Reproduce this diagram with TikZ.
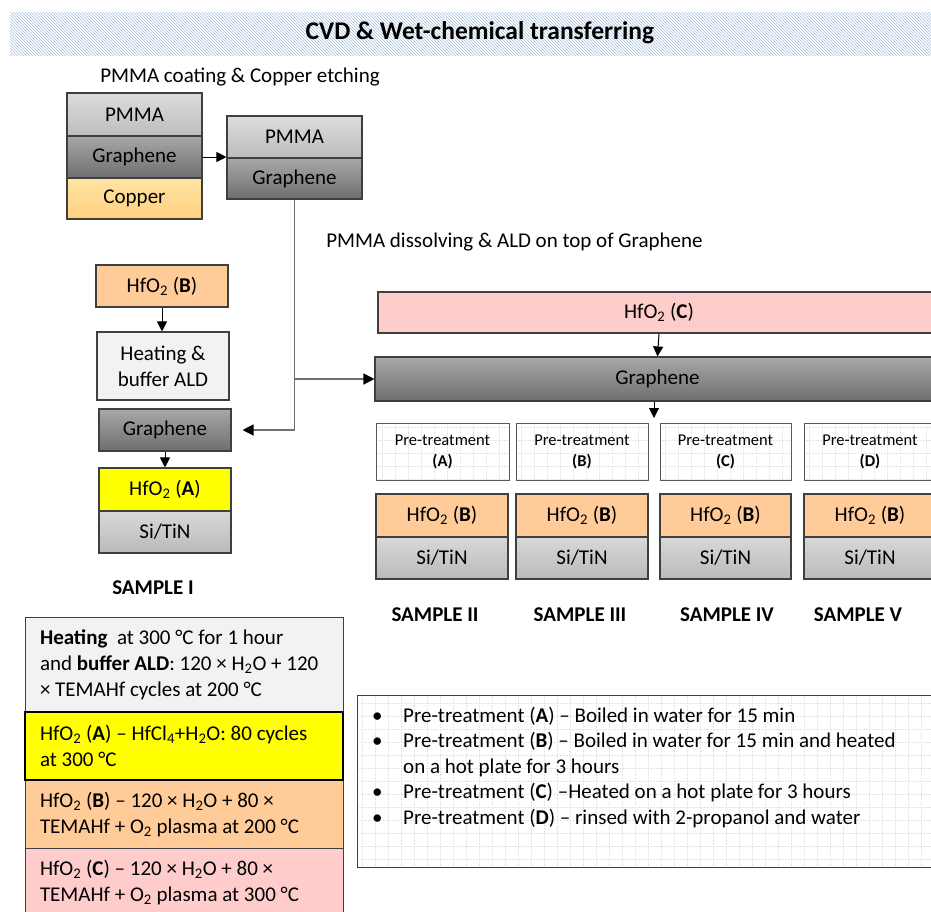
\documentclass[tikz,border=0pt]{standalone}
\usepackage{fontspec}
\setmainfont{Carlito}
\usetikzlibrary{arrows.meta,patterns}
\definecolor{boxline}{HTML}{3F3F3F}
\definecolor{prelinec}{HTML}{595959}
\definecolor{connc}{HTML}{6F6F6F}
\definecolor{bannerc}{HTML}{A9C1E0}
\definecolor{grtop}{HTML}{A8A8A8}
\definecolor{grbot}{HTML}{6E6E6E}
\definecolor{pmtop}{HTML}{DCDCDC}
\definecolor{pmbot}{HTML}{BDBDBD}
\definecolor{cutop}{HTML}{FFE3A3}
\definecolor{cubot}{HTML}{FFD27F}
\definecolor{sitop}{HTML}{D8D8D8}
\definecolor{sibot}{HTML}{BABABA}
\definecolor{hfB}{HTML}{FFCC99}
\definecolor{hfA}{HTML}{FFFF00}
\definecolor{hfC}{HTML}{FFCCCC}
\definecolor{heatc}{HTML}{F2F2F2}
\definecolor{gridc}{HTML}{E4E4E4}
\newcommand\mainsz{\fontsize{21}{26}\selectfont}
\newcommand\hfo{HfO\textsubscript{2}}
\newcommand\ind{\hspace*{7.5pt}}
\begin{document}
\begin{tikzpicture}[x=1pt,y=-1pt,
  wh/.style 2 args={minimum width=#1, minimum height=#2},
  lay/.style={draw=boxline, line width=1.1pt, inner sep=0pt, align=center, font=\mainsz},
  graph/.style={top color=grtop, bottom color=grbot},
  pmma/.style={top color=pmtop, bottom color=pmbot},
  copper/.style={top color=cutop, bottom color=cubot},
  sitin/.style={top color=sitop, bottom color=sibot},
  gridbg/.style={path picture={\draw[gridc, densely dotted, line width=0.5pt]
      (path picture bounding box.south west) grid[step=13pt] (path picture bounding box.north east);}},
  prebox/.style={draw=prelinec, line width=1pt, fill=white, gridbg, inner sep=0pt, align=center,
      font=\fontsize{16.5}{21}\selectfont},
  samp/.style={font=\bfseries\mainsz, inner sep=0pt},
  tab/.style={draw=boxline, line width=1pt, align=flush left, text width=303pt, inner xsep=7.5pt,
      inner ysep=0pt, font=\mainsz},
  arr/.style={line width=1pt, black, -{Triangle[length=10pt,width=10pt]}},
  conn/.style={line width=1.3pt, connc, -{Triangle[length=11pt,width=11pt,color=black]}},
  lbl/.style={font=\mainsz, inner sep=0pt}
]
\useasboundingbox (0,0) rectangle (931,911);
\fill[white] (0,0) rectangle (931,911);

% title banner
\fill[pattern=north west lines, pattern color=bannerc] (10,12) rectangle (931,55);
\node[font=\bfseries\fontsize{25.5}{30}\selectfont, inner sep=0pt] (title) at (480,33) {CVD \& Wet-chemical transferring};

% labels
\node[lbl] (lab1) at (240,77) {PMMA coating \& Copper etching};
\node[lbl] (lab2) at (514.5,242) {PMMA dissolving \& ALD on top of Graphene};

% first stack
\node[lay, pmma, wh={135pt}{43pt}] (pm1) at (134.5,114.5) {PMMA};
\node[lay, graph, wh={135pt}{42pt}] (gr1) at (134.5,157) {Graphene};
\node[lay, copper, wh={135pt}{41pt}] (cu1) at (134.5,198.5) {Copper};

% second stack
\node[lay, pmma, wh={135pt}{42pt}] (pm2) at (294.5,137) {PMMA};
\node[lay, graph, wh={135pt}{41pt}] (gr2) at (294.5,178.5) {Graphene};
\draw[arr] (gr1.east) -- (gr1.east -| pm2.west);

% left column (sample I)
\node[lay, fill=hfB, wh={132pt}{42pt}] (hfbL) at (162,286) {\hfo{} (\textbf{B})};
\node[lay, fill=heatc, wh={132pt}{68pt}] (heat) at (163,366) {Heating \&\\buffer ALD};
\node[lay, graph, wh={132pt}{42pt}] (grL) at (165,430) {Graphene};
\node[lay, fill=hfA, wh={132pt}{43pt}] (hfaL) at (165,489.5) {\hfo{} (\textbf{A})};
\node[lay, sitin, wh={132pt}{42pt}] (siL) at (165,532) {Si/TiN};
\node[samp] (s1) at (153,588) {SAMPLE I};
\draw[arr] (hfbL.south) -- (hfbL.south |- heat.north);
\draw[arr] (grL.south) -- (hfaL.north);

% right part
\node[lay, fill=hfC, wh={562pt}{41pt}] (hfcR) at (659,312.5) {\hfo{} (\textbf{C})};
\node[lay, graph, wh={565pt}{44pt}] (gw) at (657.5,379) {Graphene};
\draw[arr] (hfcR.south) -- (gw.north);
\coordinate (split) at (654,418);
\draw[arr] (gw.south -| split) -- (split);

% connectors from second stack
\draw[conn] (gr2.south) |- (gw.west);
\draw[conn] (gr2.south |- gw.west) |- ([xshift=11pt]grL.east);

% pre-treatment boxes
\node[prebox, wh={133pt}{57pt}] (ptA) at (442.5,451.5) {Pre-treatment\\\textbf{(A)}};
\node[prebox, wh={132pt}{57pt}] (ptB) at (582,451.5) {Pre-treatment\\\textbf{(B)}};
\node[prebox, wh={131pt}{57pt}] (ptC) at (725.5,451.5) {Pre-treatment\\\textbf{(C)}};
\node[prebox, wh={132pt}{57pt}] (ptD) at (870,451.5) {Pre-treatment\\\textbf{(D)}};

% sample stacks
\node[lay, fill=hfB, wh={132pt}{43pt}] (hA) at (442,515.5) {\hfo{} (\textbf{B})};
\node[lay, sitin, wh={132pt}{42pt}] (sA) at (442,558) {Si/TiN};
\node[lay, fill=hfB, wh={132pt}{43pt}] (hB) at (582,515.5) {\hfo{} (\textbf{B})};
\node[lay, sitin, wh={132pt}{42pt}] (sB) at (582,558) {Si/TiN};
\node[lay, fill=hfB, wh={131pt}{43pt}] (hC) at (725.5,515.5) {\hfo{} (\textbf{B})};
\node[lay, sitin, wh={131pt}{42pt}] (sC) at (725.5,558) {Si/TiN};
\node[lay, fill=hfB, wh={132pt}{43pt}] (hD) at (870,515.5) {\hfo{} (\textbf{B})};
\node[lay, sitin, wh={132pt}{42pt}] (sD) at (870,558) {Si/TiN};

\node[samp] (s2) at (435,615) {SAMPLE II};
\node[samp] (s3) at (580,615) {SAMPLE III};
\node[samp] (s4) at (727,615) {SAMPLE IV};
\node[samp] (s5) at (858,615) {SAMPLE V};

% legend table
\node[tab, fill=heatc, wh={318pt}{95pt}] (tHeat) at (184,664.5)
  {\ind\textbf{Heating}\ \ at 300 °C for 1 hour\\\ind and \textbf{buffer ALD}: 120 × H\textsubscript{2}O + 120\\\ind × TEMAHf cycles at 200 °C};
\node[tab, fill=hfB, wh={318pt}{68pt}] (tB) at (184,814)
  {\ind\hfo{} (\textbf{B}) – 120 × H\textsubscript{2}O + 80 ×\\\ind TEMAHf + O\textsubscript{2} plasma at 200 °C};
\node[tab, fill=hfC, wh={318pt}{68pt}] (tC) at (184,882)
  {\ind\hfo{} (\textbf{C}) – 120 × H\textsubscript{2}O + 80 ×\\\ind TEMAHf + O\textsubscript{2} plasma at 300 °C};
\node[tab, fill=hfA, draw=black, line width=1.6pt, wh={318pt}{68pt}] (tA) at (184,746)
  {\ind\hfo{} (\textbf{A}) – HfCl\textsubscript{4}+H\textsubscript{2}O: 80 cycles\\\ind at 300 °C};

% bullet box
\node[draw=boxline, line width=1pt, fill=white, gridbg, wh={583pt}{172pt}, inner sep=0pt] (bul) at (648.5,781) {};
\node[anchor=north west, inner sep=0pt, font=\fontsize{21}{25.5}\selectfont] (bultext) at (372,704)
  {\begin{tabular}{@{}p{31pt}@{}l@{}}
   • & Pre-treatment (\textbf{A}) – Boiled in water for 15 min\\
   • & Pre-treatment (\textbf{B}) – Boiled in water for 15 min and heated\\
     & on a hot plate for 3 hours\\
   • & Pre-treatment (\textbf{C}) –Heated on a hot plate for 3 hours\\
   • & Pre-treatment (\textbf{D}) – rinsed with 2-propanol and water
   \end{tabular}};
\end{tikzpicture}
\end{document}
